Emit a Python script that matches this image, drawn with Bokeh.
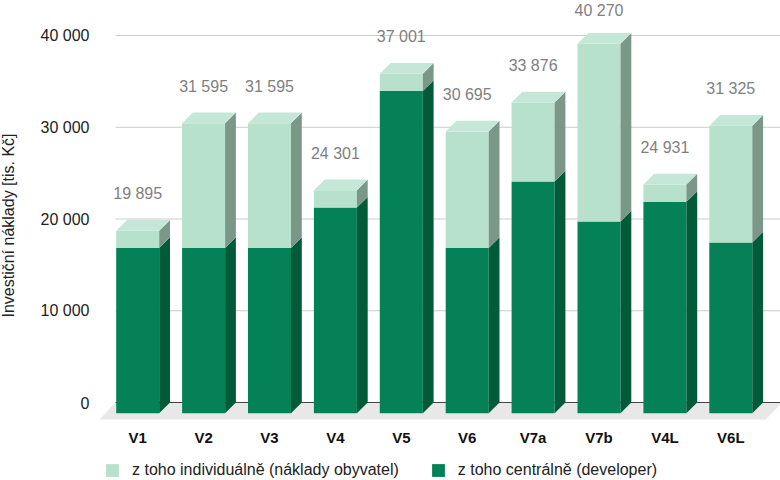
from bokeh.plotting import figure
from bokeh.models import Range1d, Legend, LegendItem
from bokeh.embed import file_html
from bokeh.resources import INLINE
from bokeh.core.properties import value

# ---------------- data ----------------
categories = ["V1", "V2", "V3", "V4", "V5", "V6", "V7a", "V7b", "V4L", "V6L"]
totals = [19895, 31595, 31595, 24301, 37001, 30695, 33876, 40270, 24931, 31325]
central = [18000, 18000, 18000, 22406, 35106, 18000, 25250, 20900, 23036, 18600]
total_labels = ["19 895", "31 595", "31 595", "24 301", "37 001",
                "30 695", "33 876", "40 270", "24 931", "31 325"]
y_ticks = [0, 10000, 20000, 30000, 40000]
y_tick_labels = ["0", "10 000", "20 000", "30 000", "40 000"]
series_names = ["z toho individuálně (náklady obyvatel)", "z toho centrálně (developer)"]
y_title = "Investiční náklady [tis. Kč]"

# ---------------- layout ----------------
W, H = 780, 480
X0_PX, SX = 137.2, 65.9        # px of first category centre, px per category
Y0_PX, SY = 402.0, 0.009175    # px of zero, px per unit

def px_x(px):
    return (px - X0_PX) / SX

def px_y(py):
    return (Y0_PX - py) / SY

HW = 21.5 / SX          # half width of front face
DX = 10.8 / SX          # depth in x
DY = 10.7 / SY          # depth in y
LABEL_GAP = 2890        # label centre above bar back-top
LABEL_MAX = px_y(9.5)   # keep labels inside the canvas

FONT = value("Liberation Sans")
LIGHT, LIGHT_SIDE, LIGHT_TOP = "#b7e1cd", "#7a9788", "#c5e7d7"
DARK, DARK_SIDE = "#048157", "#015b3b"

p = figure(width=W, height=H, output_backend="svg", toolbar_location=None,
           x_range=Range1d(px_x(0), px_x(W)), y_range=Range1d(px_y(H), px_y(0)),
           min_border=0, x_axis_location=None, y_axis_location=None,
           outline_line_color=None, background_fill_color="white")
p.grid.visible = False

# gridlines
gl = y_ticks[1:]
p.segment(x0=[px_x(115)] * len(gl), y0=gl, x1=[px_x(W)] * len(gl), y1=gl,
          line_color="#cccccc", line_width=1)

# floor
p.patch(x=[px_x(115), px_x(782), px_x(765), px_x(99)],
        y=[0, 0, px_y(419), px_y(419)],
        fill_color="#e8e8e8", line_color=None)
# zero line
p.segment(x0=[px_x(115)], y0=[0], x1=[px_x(W)], y1=[0], line_color="#444444", line_width=1)

xs = list(range(len(categories)))
left = [x - HW for x in xs]
right = [x + HW for x in xs]

dark_front = p.quad(left=left, right=right, bottom=[-DY] * len(xs),
                    top=[c - DY for c in central], fill_color=DARK, line_color=None)
light_front = p.quad(left=left, right=right, bottom=[c - DY for c in central],
                     top=[t - DY for t in totals], fill_color=LIGHT, line_color=None)

p.patches(xs=[[r, r + DX, r + DX, r] for r in right],
          ys=[[-DY, 0, c, c - DY] for c in central],
          fill_color=DARK_SIDE, line_color=None)
p.patches(xs=[[r, r + DX, r + DX, r] for r in right],
          ys=[[c - DY, c, t, t - DY] for c, t in zip(central, totals)],
          fill_color=LIGHT_SIDE, line_color=None)
p.patches(xs=[[l, r, r + DX, l + DX] for l, r in zip(left, right)],
          ys=[[t - DY, t - DY, t, t] for t in totals],
          fill_color=LIGHT_TOP, line_color=None)

# total labels
p.text(x=xs, y=[min(t + LABEL_GAP, LABEL_MAX) for t in totals], text=total_labels,
       text_align="center", text_baseline="middle", text_color="#7f7f7f",
       text_font=FONT, text_font_size="16px")

# y tick labels
p.text(x=[px_x(89)] * len(y_ticks), y=y_ticks, text=y_tick_labels,
       text_align="right", text_baseline="middle", text_color="#222222",
       text_font=FONT, text_font_size="16px")

# category labels
p.text(x=xs, y=[px_y(437)] * len(xs), text=categories,
       text_align="center", text_baseline="middle", text_color="#111111",
       text_font=FONT, text_font_size="15px", text_font_style="bold")

# y title
p.text(x=[px_x(8)], y=[px_y(225)], text=[y_title], angle=1.5707963,
       text_align="center", text_baseline="middle", text_color="#222222",
       text_font=FONT, text_font_size="16px")

legend = Legend(items=[LegendItem(label=series_names[0], renderers=[light_front]),
                       LegendItem(label=series_names[1], renderers=[dark_front])],
                orientation="horizontal", location=(104, 1),
                glyph_width=16, glyph_height=16, label_standoff=12, spacing=31,
                padding=0, margin=0, border_line_color=None,
                background_fill_alpha=0, label_height=16,
                label_text_font="Liberation Sans", label_text_font_size="16px",
                label_text_color="#222222")
p.add_layout(legend)

open("out.html", "w").write(file_html(p, INLINE))
